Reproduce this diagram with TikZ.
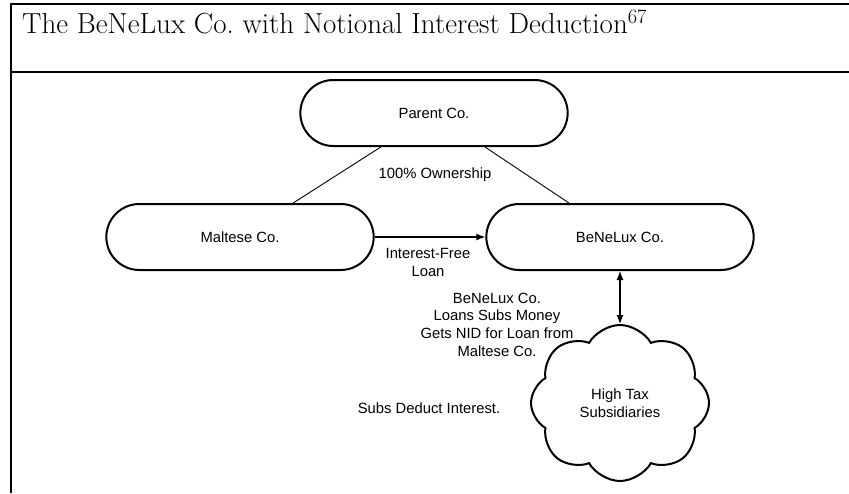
\documentclass[tikz,border=0pt]{standalone}
\usepackage{fontspec}
\newfontfamily\labelfont{Liberation Sans}
\usetikzlibrary{shapes.misc,shapes.symbols,arrows.meta}

\begin{document}
\begin{tikzpicture}[x=1pt,y=-1pt,
  frameline/.style={line width=2.5pt},
  labeltext/.style={font=\labelfont\fontsize{14.8}{17.7}\selectfont},
  company/.style={rounded rectangle, draw, line width=2pt,
    minimum width=274pt, minimum height=66pt, labeltext},
  note/.style={align=center, inner sep=0pt, labeltext},
  link/.style={line width=0.9pt},
  flow/.style={line width=1.2pt, -{Latex[length=9pt,width=7pt]}},
  twoway/.style={line width=1.2pt, {Latex[length=9pt,width=7pt]}-{Latex[length=9pt,width=7pt]}},
]
\useasboundingbox (0,0) rectangle (849,493);

% frame and title bar
\draw[frameline] (11,493) -- (11,4) -- (849,4);
\draw[frameline] (11,72) -- (849,72);
\node[anchor=base west, inner sep=0pt, font=\fontsize{29}{34}\selectfont] (title) at (22,33)
  {The BeNeLux Co.\ with Notional Interest Deduction\textsuperscript{67}};

% companies
\node[company] (parent) at (434,113) {Parent Co.};
\node[company] (maltese) at (240,237) {Maltese Co.};
\node[company] (benelux) at (620,237) {BeNeLux Co.};
\node[cloud, draw, line width=2pt, cloud puffs=8, cloud puff arc=120, aspect=1.1,
  minimum width=178pt, minimum height=156pt, align=center, labeltext] (subs) at (620,403)
  {High Tax\\Subsidiaries};

% connectors
\draw[link] (parent) -- (maltese);
\draw[link] (parent) -- (benelux);
\draw[flow] (maltese.east) -- (benelux.west);
\draw[twoway] (benelux.south) -- (subs.north);

% labels
\node[note] (own) at (435,175) {100\% Ownership};
\node[note] (loan) at (428,262.5) {Interest-Free\\Loan};
\node[note] (nid) at (497,324.5) {BeNeLux Co.\\Loans Subs Money\\Gets NID for Loan from\\Maltese Co.};
\node[note] (deduct) at (429,408) {Subs Deduct Interest.};
\end{tikzpicture}
\end{document}
